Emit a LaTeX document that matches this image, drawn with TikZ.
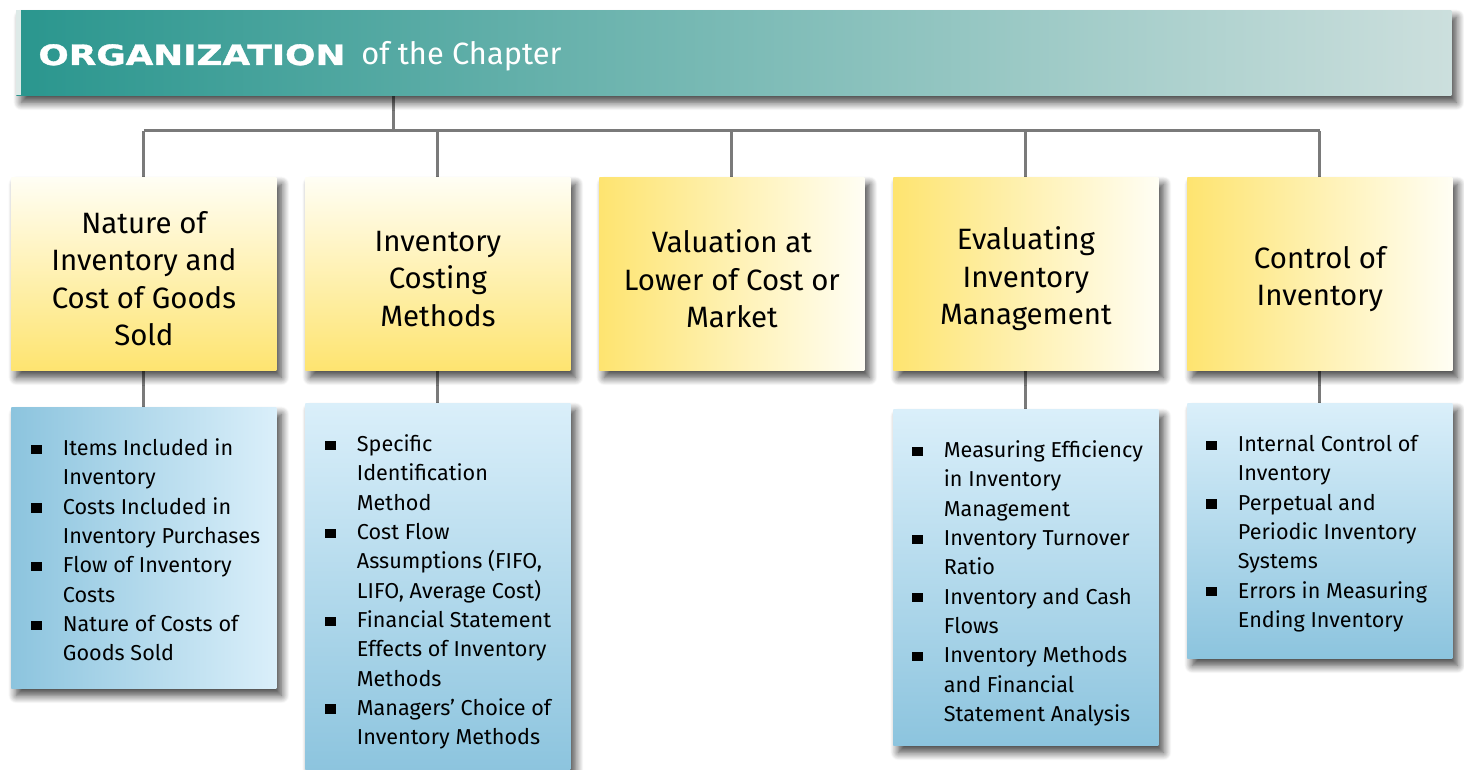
\documentclass[tikz,border=0pt]{standalone}
\usepackage{fontspec}
\setmainfont{Fira Sans}
\newfontfamily\hdrfont[BoldFeatures={FakeBold=1.2}]{DejaVu Sans}
\usetikzlibrary{shadows.blur,calc,backgrounds}
\definecolor{tealA}{RGB}{42,150,142}
\definecolor{tealB}{RGB}{204,223,221}
\definecolor{tealStrip}{RGB}{222,234,232}
\definecolor{ylw}{RGB}{254,228,112}
\definecolor{ywh}{RGB}{255,254,244}
\definecolor{bdark}{RGB}{140,196,222}
\definecolor{blight}{RGB}{218,239,250}
\definecolor{conn}{RGB}{122,122,122}
\newcommand{\bitem}[1]{\par\hangindent=15.75pt\hangafter=1\noindent\makebox[15.75pt][l]{\raisebox{0.85pt}{\rule{5.3pt}{4.6pt}}}#1}
\newcommand{\blist}[1]{\begin{minipage}[t]{125pt}\fontsize{10.8pt}{14.65pt}\selectfont\rightskip=0pt plus 1fil\parindent=0pt\parskip=0pt #1\end{minipage}}
\tikzset{
  x=0.5pt, y=-0.5pt,
  shad/.style={blur shadow={shadow xshift=2.5pt, shadow yshift=-3.5pt, shadow blur radius=4pt, shadow blur steps=12, shadow opacity=75}},
  ybox/.style={shad, anchor=north west, minimum width=132.5pt, minimum height=96.5pt, inner sep=0pt},
  yv/.style={ybox, top color=ywh, bottom color=ylw},
  yh/.style={ybox, left color=ylw, right color=ywh},
  ytext/.style={align=center, inner sep=0pt, font=\fontsize{14.7pt}{18.75pt}\selectfont},
  bbox/.style={shad, anchor=north west, minimum width=132.5pt, inner sep=0pt},
  bv/.style={bbox, top color=blight, bottom color=bdark},
  bh/.style={bbox, left color=bdark, right color=blight},
  btext/.style={anchor=base west, inner sep=0pt},
  conline/.style={draw=conn, line width=1.5pt},
}
\begin{document}
\begin{tikzpicture}
\useasboundingbox (0,0) rectangle (1464,770);
% header
\node[shad, anchor=north west, minimum width=717.5pt, minimum height=42.5pt, inner sep=0pt,
      left color=tealA, right color=tealB] (hdr) at (16,10) {};
\fill[tealStrip] (16,10) rectangle (21,95);
\node[anchor=base west, inner sep=0pt, text=white] (ht1) at (38,65)
  {\resizebox{153.5pt}{10.4pt}{\hdrfont\bfseries ORGANIZATION}};
\node[anchor=base west, inner sep=0pt, text=white] (ht2) at (361,65)
  {\resizebox{100pt}{!}{\fontsize{15pt}{18pt}\selectfont of the Chapter}};
% yellow boxes
\node[yv] (y1) at (11,177) {};
\node[yv] (y2) at (305,177) {};
\node[yh] (y3) at (599,177) {};
\node[yh] (y4) at (893,177) {};
\node[yh] (y5) at (1187,177) {};
\node[ytext] (yt1) at ($(y1.center)+(0,5)$) {Nature of\\Inventory and\\Cost of Goods\\Sold};
\node[ytext] (yt2) at ($(y2.center)+(0,5)$) {Inventory\\Costing\\Methods};
\node[ytext] (yt3) at ($(y3.center)+(0,5)$) {Valuation at\\Lower of Cost or\\Market};
\node[ytext] (yt4) at ($(y4.center)+(0,5)$) {Evaluating\\Inventory\\Management};
\node[ytext] (yt5) at ($(y5.center)+(0,5)$) {Control of\\Inventory};
% blue boxes
\node[bh, minimum height=140.5pt] (b1) at (11,407) {};
\node[bv, minimum height=184pt] (b2) at (305,403) {};
\node[bv, minimum height=168pt] (b4) at (893,409) {};
\node[bv, minimum height=127.5pt] (b5) at (1187,403) {};
\node[btext] (b1t) at ($(b1.north west)+(20,48.7)$) {\blist{%
  \bitem{Items Included in\\Inventory}
  \bitem{Costs Included in\\Inventory Purchases}
  \bitem{Flow of Inventory\\Costs}
  \bitem{Nature of Costs of\\Goods Sold}}};
\node[btext] (b2t) at ($(b2.north west)+(20,48.7)$) {\blist{%
  \bitem{Specific\\Identification\\Method}
  \bitem{Cost Flow\\Assumptions (FIFO,\\LIFO, Average Cost)}
  \bitem{Financial Statement\\Effects of Inventory\\Methods}
  \bitem{Managers’ Choice of\\Inventory Methods}}};
\node[btext] (b4t) at ($(b4.north west)+(19,48.7)$) {\blist{%
  \bitem{Measuring Efficiency\\in Inventory\\Management}
  \bitem{Inventory Turnover\\Ratio}
  \bitem{Inventory and Cash\\Flows}
  \bitem{Inventory Methods\\and Financial\\Statement Analysis}}};
\node[btext] (b5t) at ($(b5.north west)+(19,48.7)$) {\blist{%
  \bitem{Internal Control of\\Inventory}
  \bitem{Perpetual and\\Periodic Inventory\\Systems}
  \bitem{Errors in Measuring\\Ending Inventory}}};
% connectors
\begin{scope}[on background layer]
\coordinate (bus) at (393,131);
\draw[conline] (hdr.south -| bus) -- (bus);
\draw[conline] (y1.north |- bus) -- (y5.north |- bus);
\foreach \i in {1,...,5} {\draw[conline] (y\i.north |- bus) -- (y\i.north);}
\draw[conline] (y1.south) -- (b1.north);
\draw[conline] (y2.south) -- (b2.north);
\draw[conline] (y4.south) -- (b4.north);
\draw[conline] (y5.south) -- (b5.north);
\end{scope}
\end{tikzpicture}
\end{document}
